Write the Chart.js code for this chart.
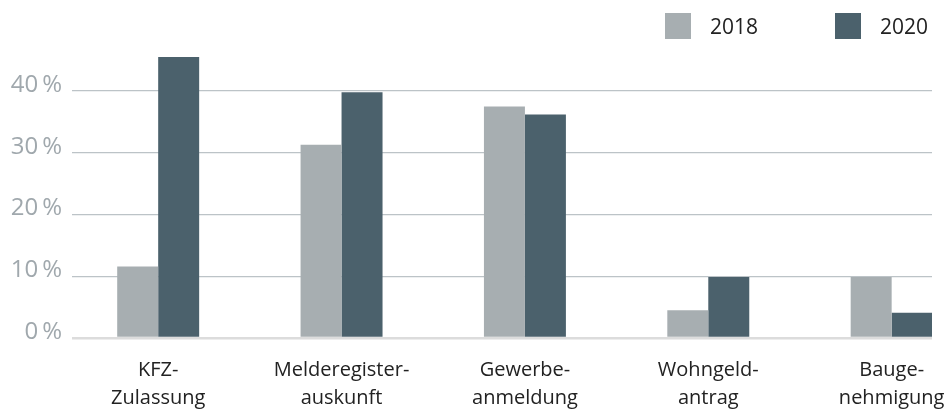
<!DOCTYPE html>
<html>
<head>
<meta charset="utf-8">
<script src="https://cdn.jsdelivr.net/npm/chart.js@4"></script>
<style>
  body { margin: 0; background: #fff; }
  #wrap { position: relative; width: 950px; height: 410px; }
  #legend { position: absolute; left: 665px; top: 12px; display: flex; font-family: "Open Sans", sans-serif; font-size: 21px; color: #222; }
  .item { display: flex; align-items: center; width: 170px; }
  .box { width: 26px; height: 26px; margin-right: 19px; }
</style>
</head>
<body>
<div id="wrap">
  <canvas id="chart" width="950" height="410"></canvas>
  <div id="legend"></div>
</div>
<script>
const categories = [
    ['KFZ-', 'Zulassung'],
    ['Melderegister-', 'auskunft'],
    ['Gewerbe-', 'anmeldung'],
    ['Wohngeld-', 'antrag'],
    ['Bauge-', 'nehmigung'],
];
const seriesNames = ['2018', '2020'];
const values2018 = [11.6, 31.3, 37.5, 4.5, 9.9];
const values2020 = [45.5, 39.8, 36.2, 9.9, 4.1];
const yTicks = [0, 5, 10, 15, 20, 25, 30, 35, 40, 45];

const colors = ['#a7aeb1', '#4b616c'];

function toPoints(values) {
    return values.map((v, i) => ({ x: i, y: v }));
}

const ctx = document.getElementById('chart').getContext('2d');

const chart = new Chart(ctx, {
    type: 'bar',
    data: {
        datasets: [
            { label: seriesNames[0], data: toPoints(values2018), backgroundColor: colors[0] },
            { label: seriesNames[1], data: toPoints(values2020), backgroundColor: colors[1] },
        ],
    },
    options: {
        responsive: false,
        animation: false,
        layout: { padding: { top: 54, right: 18, left: 0, bottom: 0 } },
        datasets: {
            bar: { categoryPercentage: 0.447, barPercentage: 1, borderWidth: 0 },
        },
        plugins: {
            legend: { display: false },
            tooltip: { enabled: false },
        },
        scales: {
            x: {
                type: 'linear',
                min: -0.47,
                max: 4.22,
                offset: false,
                grid: { display: false, drawTicks: false },
                border: { display: false },
                afterBuildTicks: (scale) => {
                    scale.ticks = categories.map((_, i) => ({ value: i }));
                },
                afterFit: (scale) => {
                    scale.height = 72;
                    // labels may hang past the plot edge, like in the original
                    scale.paddingLeft = 0;
                    scale.paddingRight = 0;
                },
                ticks: {
                    autoSkip: false,
                    maxRotation: 0,
                    padding: 18,
                    color: '#222',
                    font: { family: 'Open Sans', size: 20, lineHeight: 1.4 },
                    callback: (v) => categories[v],
                },
            },
            y: {
                min: 0,
                max: 46,
                grid: {
                    drawTicks: false,
                    color: (c) => c.tick && c.tick.value === 0 ? '#dcdcdc' : '#bcc3c7',
                    lineWidth: (c) => c.tick && c.tick.value === 0 ? 2.5 : 1.3,
                },
                border: { display: false },
                afterBuildTicks: (scale) => {
                    scale.ticks = yTicks.map((v) => ({ value: v }));
                },
                afterFit: (scale) => { scale.width = 72; },
                ticks: {
                    padding: 10,
                    labelOffset: -6,
                    color: '#a0a8ad',
                    font: { family: 'Open Sans', size: 24 },
                    callback: (v) => v % 10 === 0 ? v + '\u2009%' : '',
                },
            },
        },
    },
});

// legend as html, built from the dataset names and colours
const legendEl = document.getElementById('legend');
seriesNames.forEach((name, i) => {
    const item = document.createElement('div');
    item.className = 'item';
    const box = document.createElement('span');
    box.className = 'box';
    box.style.background = colors[i];
    const label = document.createElement('span');
    label.textContent = name;
    item.appendChild(box);
    item.appendChild(label);
    legendEl.appendChild(item);
});
</script>
</body>
</html>
